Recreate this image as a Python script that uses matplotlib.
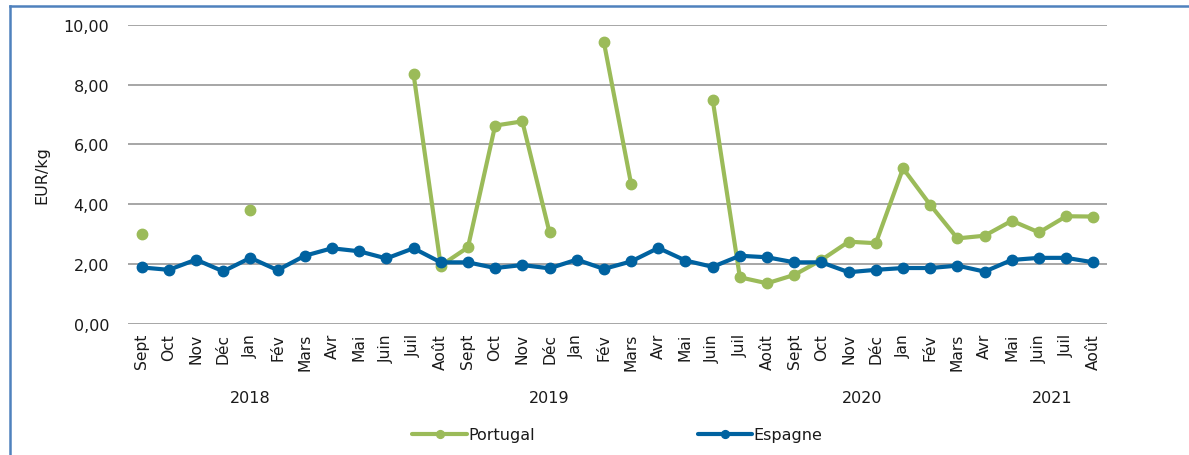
import numpy as np
import matplotlib
matplotlib.use("Agg")
import matplotlib.pyplot as plt
from matplotlib.lines import Line2D

# Monthly prices, Sept 2018 - Aug 2021
months = ["Sept", "Oct", "Nov", "Déc",
          "Jan", "Fév", "Mars", "Avr", "Mai", "Juin", "Juil", "Août", "Sept", "Oct", "Nov", "Déc",
          "Jan", "Fév", "Mars", "Avr", "Mai", "Juin", "Juil", "Août", "Sept", "Oct", "Nov", "Déc",
          "Jan", "Fév", "Mars", "Avr", "Mai", "Juin", "Juil", "Août"]

nan = np.nan
portugal = [3.00, nan, nan, nan,
            3.81, nan, nan, nan, nan, nan, 8.35, 1.95, 2.56, 6.63, 6.77, 3.06,
            nan, 9.41, 4.68, nan, nan, 7.49, 1.56, 1.36, 1.64, 2.14, 2.75, 2.70,
            5.20, 3.98, 2.86, 2.95, 3.45, 3.06, 3.60, 3.59]

espagne = [1.89, 1.81, 2.15, 1.76,
           2.21, 1.80, 2.28, 2.53, 2.43, 2.19, 2.53, 2.06, 2.06, 1.87, 1.97, 1.86,
           2.15, 1.84, 2.09, 2.54, 2.12, 1.91, 2.28, 2.23, 2.06, 2.06, 1.73, 1.81,
           1.87, 1.87, 1.95, 1.75, 2.14, 2.21, 2.21, 2.06]

# Year groups on the category axis (label, number of months in group)
year_labels = ["2018", "2019", "2020", "2021"]
year_counts = [9, 13, 10, 4]

green = "#9bbb59"
blue = "#0062a0"
grid_grey = "#a6a6a6"
text_col = "#1a1a1a"

plt.rcParams["font.family"] = ["DejaVu Sans"]

fig = plt.figure(figsize=(11.89, 4.56), dpi=100)
ax = fig.add_axes([128 / 1189, 1 - 325 / 456, (1107 - 128) / 1189, (325 - 25.7) / 456])

x = np.arange(len(months))
ax.plot(x, portugal, color=green, lw=3.0, marker="o", ms=7.5,
        solid_capstyle="round", label="Portugal", zorder=3)
ax.plot(x, espagne, color=blue, lw=3.0, marker="o", ms=7.5,
        solid_capstyle="round", label="Espagne", zorder=4)

ax.set_xlim(-0.5, len(months) - 0.5)
ax.set_ylim(0, 10)
ax.set_yticks(np.arange(0, 10.01, 2))
ax.set_yticklabels([f"{v:.2f}".replace(".", ",") for v in np.arange(0, 10.01, 2)],
                   fontsize=11.5, color=text_col)
ax.set_xticks(x)
ax.set_xticklabels(months, rotation=90, fontsize=11.2, color=text_col)
ax.tick_params(axis="both", length=0)
ax.tick_params(axis="y", pad=13.5)
ax.tick_params(axis="x", pad=6.5)
ax.grid(axis="y", color=grid_grey, lw=1.4)
ax.set_axisbelow(True)
for s in ax.spines.values():
    s.set_visible(False)

ax.set_ylabel("EUR/kg", fontsize=11.5, color=text_col, labelpad=10)

# Year labels centred under their month groups
start = 0
for lab, n in zip(year_labels, year_counts):
    centre = start + (n - 1) / 2
    ax.text(centre, -0.245, lab, transform=ax.get_xaxis_transform(),
            ha="center", va="center", fontsize=11.5, color=text_col)
    start += n

leg = ax.legend(loc="center", bbox_to_anchor=(0.5, -0.37), ncol=2, frameon=False,
                fontsize=11.5, handlelength=3.4, handletextpad=0.1,
                columnspacing=10.2, markerscale=0.75)
for t in leg.get_texts():
    t.set_color(text_col)

# Frame lines around the figure
fig.add_artist(Line2D([10 / 1189, 1.0], [1 - 7 / 456, 1 - 7 / 456],
                      transform=fig.transFigure, color="#4f81bd", lw=1.8))
fig.add_artist(Line2D([10 / 1189, 10 / 1189], [0.0, 1 - 7 / 456],
                      transform=fig.transFigure, color="#4f81bd", lw=1.8))

fig.savefig("out.png", dpi=100)
